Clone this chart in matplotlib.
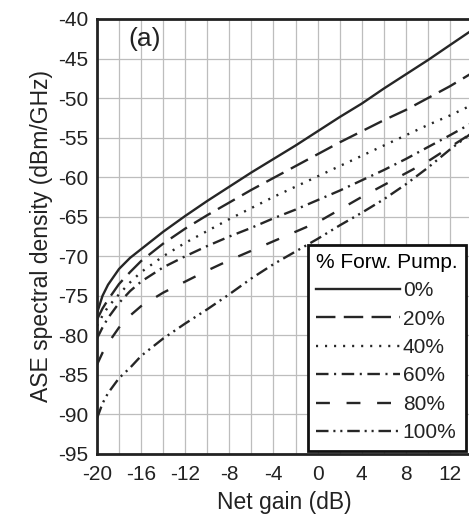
import numpy as np
import matplotlib
matplotlib.use("Agg")
import matplotlib.pyplot as plt

## Donnees
gain = [-20, -19.5, -19, -18, -17, -16, -14, -12, -10, -8, -6, -4, -2,
        0, 2, 4, 6, 8, 10, 12, 13.8]

ase_0 = [-77.2, -75.0, -73.6, -71.6, -70.2, -69.1, -66.9, -64.9, -63.0, -61.2, -59.4,
         -57.7, -56.0, -54.2, -52.4, -50.7, -48.8, -47.0, -45.2, -43.3, -41.6]
ase_20 = [-78.0, -76.6, -75.5, -73.5, -72.0, -70.6, -68.4, -66.5, -64.8, -63.2, -61.6,
          -60.1, -58.6, -57.1, -55.6, -54.2, -52.8, -51.5, -50.0, -48.5, -47.0]
ase_40 = [-78.8, -77.5, -76.4, -74.8, -73.3, -72.0, -70.0, -68.3, -66.8, -65.3, -63.9,
          -62.5, -61.2, -59.9, -58.6, -57.3, -56.0, -54.7, -53.4, -52.2, -51.0]
ase_60 = [-80.4, -79.0, -77.8, -75.9, -74.4, -73.2, -71.4, -70.0, -68.7, -67.5, -66.4,
          -65.2, -64.1, -62.9, -61.7, -60.4, -59.1, -57.7, -56.2, -54.7, -53.3]
ase_80 = [-83.7, -82.2, -81.0, -79.0, -77.5, -76.3, -74.6, -73.2, -71.8, -70.5, -69.3,
          -68.1, -66.9, -65.7, -64.1, -62.5, -61.0, -59.5, -58.0, -56.2, -54.6]
ase_100 = [-90.5, -88.6, -87.3, -85.4, -84.1, -82.6, -80.4, -78.5, -76.7, -74.8, -72.8,
           -71.0, -69.4, -67.8, -66.1, -64.5, -62.8, -60.9, -58.8, -56.5, -54.6]

labels = ["0%", "20%", "40%", "60%", "80%", "100%"]
xticks = [-20, -16, -12, -8, -4, 0, 4, 8, 12]
yticks = [-40, -45, -50, -55, -60, -65, -70, -75, -80, -85, -90, -95]

## Styles
plt.rcParams['font.family'] = ['Liberation Sans', 'DejaVu Sans']
plt.rcParams['lines.scale_dashes'] = False
plt.rcParams['axes.unicode_minus'] = False
col = "#262626"
styles = ["-", (0, (14, 6)), (0, (1.5, 5)), (0, (9, 4, 1.5, 4)),
          (0, (10, 12)), (0, (9, 3.5, 1.5, 3.5, 1.5, 3.5))]

fig = plt.figure(figsize=(4.69, 5.14), dpi=100)
ax = fig.add_axes([97/469, 1-454/514, 375/469, 435/514])

series = [ase_0, ase_20, ase_40, ase_60, ase_80, ase_100]
for s, ls, lab in zip(series, styles, labels):
    ax.plot(gain, s, color=col, lw=1.7, linestyle=ls, label=lab,
            dash_capstyle="butt")

ax.set_xlim(-20, 14)
ax.set_ylim(-95, -40)
ax.set_xticks(xticks)
ax.set_yticks(yticks)
ax.set_xticks(np.arange(-20, 15, 2), minor=True)
ax.grid(True, which="both", axis="x", color="#bdbdbd", lw=0.9)
ax.grid(True, which="major", axis="y", color="#bdbdbd", lw=0.9)
ax.set_axisbelow(True)
ax.tick_params(which="both", length=0, labelsize=15, colors="#222222")
ax.tick_params(axis="x", pad=8)
ax.tick_params(axis="y", pad=6)
for sp in ax.spines.values():
    sp.set_linewidth(2)
    sp.set_color("#222222")

ax.set_xlabel("Net gain (dB)", fontsize=16.5, color="#222222", labelpad=5)
ax.set_ylabel("ASE spectral density (dBm/GHz)", fontsize=16.5, color="#222222",
              labelpad=4)
ax.text(-17.2, -41.0, "(a)", fontsize=19, color="#222222", va="top")

leg = ax.legend(title="% Forw. Pump.", loc="lower right",
                bbox_to_anchor=(0.985, 0.008), fontsize=15, title_fontsize=15,
                handlelength=4.0, handletextpad=0.15, labelspacing=0.45,
                borderpad=0.4, alignment="left", fancybox=False,
                framealpha=1, edgecolor="#111111", borderaxespad=0)
leg.get_frame().set_linewidth(2)
for t in leg.get_texts():
    t.set_color("#222222")

fig.savefig("out.png", dpi=100, facecolor="white")
